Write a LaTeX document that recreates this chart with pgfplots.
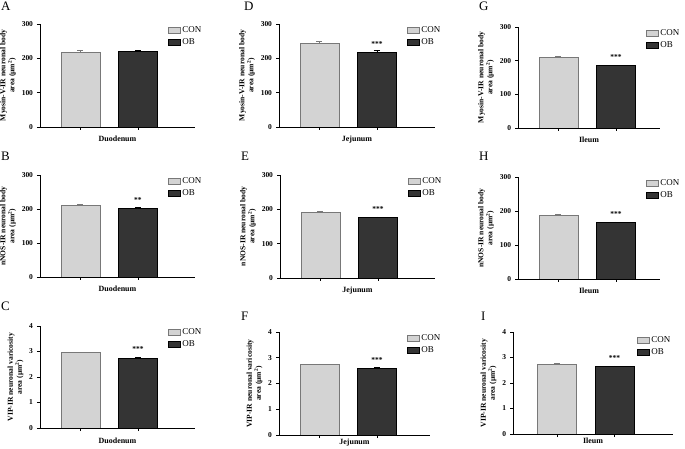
\documentclass[border=0pt]{standalone}
\usepackage{fontspec}
\setmainfont{Liberation Serif}
\usepackage{pgfplots}
\pgfplotsset{compat=1.18}

\definecolor{conFill}{RGB}{211,211,211}
\definecolor{conLine}{RGB}{120,120,120}
\definecolor{obFill}{RGB}{52,52,52}

\pgfplotsset{
  panel/.style={
    scale only axis,
    axis lines*=left,
    axis line style={black, line width=0.7pt},
    tick style={black, line width=0.6pt},
    tick align=outside,
    major tick length=3bp,
    ymin=0, xmin=0.296,
    xtick={1,2}, xticklabels={},
    ybar, bar width=39bp, bar shift=0pt,
    /pgf/number format/assume math mode=true,
    yticklabel style={font=\bfseries\fontsize{7.5}{8}\selectfont, xshift=-0.5bp},
    ylabel style={align=center, font=\bfseries\fontsize{7.6}{9}\selectfont, yshift=-1bp},
    xlabel style={at={(axis description cs:0.5,0)}, anchor=north, yshift=-5bp,
      font=\bfseries\fontsize{8}{9}\selectfont},
    area legend,
    legend image code/.code={\draw[##1] (0bp,-3bp) rectangle (12bp,3bp);},
    legend style={draw=none, fill=none, at={(0,1)}, anchor=north west,
      xshift=128bp, yshift=-1bp, font=\fontsize{9}{10}\selectfont,
      row sep=1.5bp, inner sep=0pt, nodes={inner sep=1.5bp}},
    legend cell align=left,
    error bars/y dir=plus, error bars/y explicit,
    error bars/error bar style={line width=0.6pt},
    error bars/error mark options={rotate=90, mark size=3bp, line width=0.6pt},
    every node near coord/.append style={font=\bfseries\fontsize{7.5}{8}\selectfont, yshift=2.5bp},
  },
  body/.style={ymax=300, ytick={0,100,200,300}},
  vari/.style={ymax=4, ytick={0,1,2,3,4}},
  con/.style={fill=conFill, draw=conLine, line width=0.6pt,
    error bars/error bar style={conLine}},
  ob/.style={fill=obFill, draw=black, line width=0.6pt},
}

\begin{document}
\begin{tikzpicture}
\path[use as bounding box] (0,0) rectangle (685bp,449bp);

% panel letters
\begin{scope}[every node/.style={anchor=north west, inner sep=0pt, font=\fontsize{13}{14}\selectfont}]
\node at (1bp,447bp) {A};
\node at (1bp,297bp) {B};
\node at (1bp,147bp) {C};
\node at (244bp,447bp) {D};
\node at (241bp,297bp) {E};
\node at (241bp,137bp) {F};
\node at (479bp,447bp) {G};
\node at (479bp,297bp) {H};
\node at (481bp,137bp) {I};
\end{scope}

% A
\begin{axis}[panel, body, at={(40bp,322bp)}, width=155bp, height=103bp, xmax=2.992,
  ylabel={Myosin-V-IR neuronal body\\area (µm\textsuperscript{2})}, xlabel={Duodenum}]
\addplot[con] coordinates {(1,218) +- (0,4)};
\addplot[ob] coordinates {(2,221) +- (0,3)};
\legend{CON,OB}
\end{axis}

% B
\begin{axis}[panel, body, at={(40bp,172bp)}, width=155bp, height=102bp, xmax=2.992,
  ylabel={nNOS-IR neuronal body\\area (µm\textsuperscript{2})}, xlabel={Duodenum}]
\addplot[con] coordinates {(1,210) +- (0,3)};
\addplot[ob, nodes near coords={**}] coordinates {(2,201) +- (0,3)};
\legend{CON,OB}
\end{axis}

% C
\begin{axis}[panel, vari, at={(40bp,21bp)}, width=155bp, height=102bp, xmax=2.992,
  ylabel={VIP-IR neuronal varicosity\\area (µm\textsuperscript{2})}, xlabel={Duodenum},
  xlabel style={yshift=-1bp}]
\addplot[con] coordinates {(1,2.95) +- (0,0.02)};
\addplot[ob, nodes near coords={***}] coordinates {(2,2.75) +- (0,0.02)};
\legend{CON,OB}
\end{axis}

% D
\begin{axis}[panel, body, at={(279bp,322bp)}, width=156bp, height=103bp, xmax=3.009,
  ylabel={Myosin-V-IR neuronal body\\area (µm\textsuperscript{2})}, xlabel={Jejunum}]
\addplot[con] coordinates {(1,245) +- (0,4)};
\addplot[ob, nodes near coords={***}] coordinates {(2,218) +- (0,4)};
\legend{CON,OB}
\end{axis}

% E
\begin{axis}[panel, body, at={(280bp,171bp)}, width=155bp, height=103bp, xmax=2.992,
  ylabel={nNOS-IR neuronal body\\area (µm\textsuperscript{2})}, xlabel={Jejunum}]
\addplot[con] coordinates {(1,192) +- (0,3)};
\addplot[ob, nodes near coords={***}] coordinates {(2,176) +- (0,2)};
\legend{CON,OB}
\end{axis}

% F
\begin{axis}[panel, vari, at={(279bp,14bp)}, width=151bp, height=103bp, xmax=2.922,
  ylabel={VIP-IR neuronal varicosity\\area (µm\textsuperscript{2})}, xlabel={Jejunum},
  xlabel style={yshift=5bp}]
\addplot[con] coordinates {(1,2.74) +- (0,0.02)};
\addplot[ob, nodes near coords={***}] coordinates {(2,2.59) +- (0,0.02)};
\legend{CON,OB}
\end{axis}

% G
\begin{axis}[panel, body, at={(518bp,321bp)}, width=142bp, height=101bp, xmax=2.766,
  ylabel={Myosin-V-IR neuronal body\\area (µm\textsuperscript{2})}, xlabel={Ileum}]
\addplot[con] coordinates {(1,209) +- (0,3)};
\addplot[ob, nodes near coords={***}] coordinates {(2,185) +- (0,2)};
\legend{CON,OB}
\end{axis}

% H
\begin{axis}[panel, body, at={(518bp,170bp)}, width=142bp, height=102bp, xmax=2.766,
  ylabel={nNOS-IR neuronal body\\area (µm\textsuperscript{2})}, xlabel={Ileum}]
\addplot[con] coordinates {(1,187) +- (0,3)};
\addplot[ob, nodes near coords={***}] coordinates {(2,166) +- (0,2)};
\legend{CON,OB}
\end{axis}

% I
\begin{axis}[panel, vari, at={(513bp,15bp)}, width=160bp, height=102bp, xmin=0.235, xmax=3.018,
  ylabel={VIP-IR neuronal varicosity\\area (µm\textsuperscript{2})}, xlabel={Ileum},
  xlabel style={yshift=5bp},
  legend style={xshift=-4bp, yshift=-2bp}]
\addplot[con] coordinates {(1,2.75) +- (0,0.02)};
\addplot[ob, nodes near coords={***}] coordinates {(2,2.65) +- (0,0.02)};
\legend{CON,OB}
\end{axis}
\end{tikzpicture}
\end{document}
